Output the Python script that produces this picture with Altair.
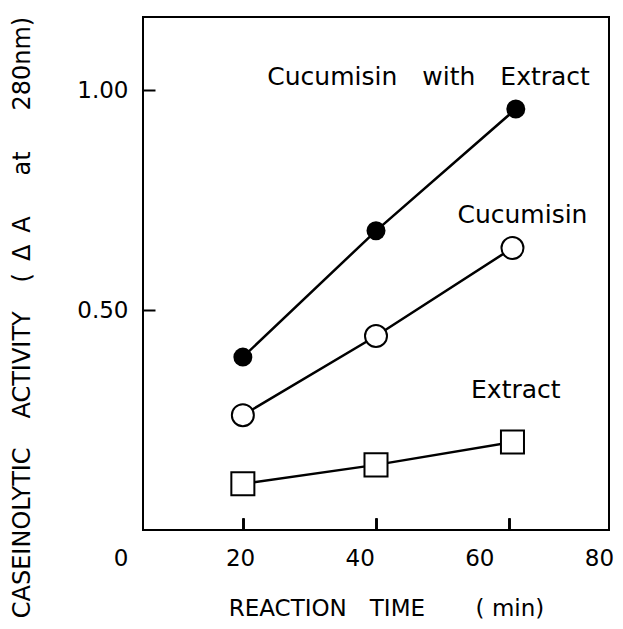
import altair as alt
import pandas as pd

# --- data ---
time_with = [20, 40, 61]
act_with = [0.393, 0.680, 0.957]
time_cuc = [20, 40, 60.5]
act_cuc = [0.261, 0.441, 0.641]
time_ext = [20, 40, 60.5]
act_ext = [0.105, 0.148, 0.200]

label_text = ["Cucumisin\u2003with\u2003Extract", "Cucumisin", "Extract"]
label_x = [47.9, 62.0, 61.0]
label_y = [1.011, 0.698, 0.300]

x_tick_labels = [0, 20, 40, 60, 80]
y_tick_values = [0.5, 1.0]

series = (["with"] * 3) + (["cuc"] * 3) + (["ext"] * 3)
df = pd.DataFrame({
    "t": time_with + time_cuc + time_ext,
    "a": act_with + act_cuc + act_ext,
    "s": series,
})
labels_df = pd.DataFrame({"text": label_text, "x": label_x, "y": label_y})
ticks_df = pd.DataFrame({"v": x_tick_labels})

FONT = "DejaVu Sans"

xscale = alt.Scale(domain=[5, 75], nice=False, zero=False)
yscale = alt.Scale(domain=[0, 1.166], nice=False, zero=False)

x_axis = alt.Axis(values=[20, 40, 60], labels=False, title=None, tickSize=12,
                  offset=-12, domain=False, grid=False, tickColor="black",
                  tickWidth=2, orient="bottom")
y_axis = alt.Axis(values=y_tick_values, format=".2f", tickSize=12, offset=-12,
                  domain=False, grid=False, tickColor="black", tickWidth=2,
                  labelPadding=15, labelFontSize=23, labelFont=FONT,
                  labelColor="black",
                  title="CASEINOLYTIC\u2003\u2009ACTIVITY\u2003\u2009(\u2002\u0394\u2002A\u2003\u2002\u2009at\u2003\u2002\u2009280nm)",
                  titleFont=FONT, titleFontSize=24, titleFontWeight="normal",
                  titleColor="black", titleAngle=270, titleAlign="center",
                  titleBaseline="middle", titleX=-133, titleY=300)

base = alt.Chart(df)
X = alt.X("t:Q", scale=xscale, axis=x_axis)
Y = alt.Y("a:Q", scale=yscale, axis=y_axis)

lines = base.mark_line(color="black", strokeWidth=2.5).encode(
    x=X, y=Y, detail="s:N", order="t:Q")

filled = base.transform_filter(alt.datum.s == "with").mark_point(
    shape="circle", filled=True, fill="black", size=361, opacity=1,
    strokeWidth=0).encode(x=X, y=Y)
open_c = base.transform_filter(alt.datum.s == "cuc").mark_point(
    shape="circle", filled=True, fill="white", stroke="black", strokeWidth=2,
    size=484, opacity=1).encode(x=X, y=Y)
squares = base.transform_filter(alt.datum.s == "ext").mark_point(
    shape="square", filled=True, fill="white", stroke="black", strokeWidth=2,
    size=530, opacity=1).encode(x=X, y=Y)

texts = alt.Chart(labels_df).mark_text(
    font=FONT, fontSize=25, color="black", align="center",
    baseline="alphabetic").encode(x=alt.X("x:Q", scale=xscale, axis=x_axis),
                                   y=alt.Y("y:Q", scale=yscale, axis=y_axis),
                                   text="text:N")

label_axis = alt.Axis(values=x_tick_labels, ticks=False, domain=False, grid=False,
                      labelPadding=17, labelFontSize=23, labelFont=FONT,
                      labelColor="black", orient="bottom",
                      title="REACTION\u2003TIME\u2003\u2003\u2009( min)",
                      titleFont=FONT, titleFontSize=23, titleFontWeight="normal",
                      titleColor="black", titleX=243, titleY=85,
                      titleBaseline="alphabetic", titleAlign="center",
                      labelOverlap=False, labelFlush=False)
label_layer = alt.Chart(ticks_df).mark_point(opacity=0).encode(
    x=alt.X("v:Q", scale=alt.Scale(domain=[0, 80], range=[-22.5, 456],
                                   nice=False, zero=False),
            axis=label_axis))

chart = alt.layer(lines, filled, open_c, squares, texts, label_layer).resolve_scale(
    x="independent").properties(
    width=466, height=513, background="white",
    autosize=alt.AutoSizeParams(type="none"),
    padding={"left": 135, "top": 9, "right": 6, "bottom": 89},
).configure_view(stroke="black", strokeWidth=2)

chart.save("out.html", embed_options={"renderer": "svg", "actions": False})
